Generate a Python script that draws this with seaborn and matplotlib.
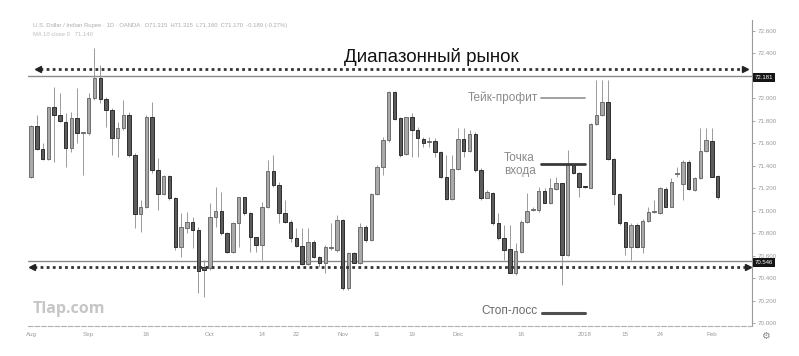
import numpy as np
import pandas as pd
import matplotlib
matplotlib.use("Agg")
import matplotlib.pyplot as plt
import seaborn as sns
from matplotlib.transforms import blended_transform_factory

# ---------------- data ----------------
opens = [71.297, 71.754, 71.547, 71.458, 71.921, 71.852, 71.793, 71.555, 71.823, 71.689,
         71.689, 72.001, 72.179, 71.992, 71.897, 71.645, 71.734, 71.852, 71.496, 70.971,
         71.030, 71.832, 71.363, 71.149, 71.309, 71.116, 70.674, 70.849, 70.903, 70.828,
         70.502, 70.487, 70.947, 71.000, 70.799, 70.635, 70.894, 71.119, 70.977, 70.763,
         70.695, 71.036, 71.354, 71.229, 70.983, 70.903, 70.754, 70.689, 70.526, 70.724,
         70.591, 70.532, 70.665, 70.650, 70.917, 70.309, 70.621, 70.537, 70.852, 70.739,
         71.149, 71.386, 71.630, 72.060, 71.823, 71.505, 71.832, 71.719, 71.639, 71.615,
         71.624, 71.526, 71.303, 71.101, 71.368, 71.636, 71.535, 71.683, 71.363, 71.116,
         71.161, 70.894, 70.760, 70.656, 70.442, 70.635, 70.903, 71.006, 71.006, 71.176,
         71.072, 71.190, 71.244, 70.606, 71.407, 71.339, 71.214, 71.205, 71.769, 71.852,
         71.965, 71.461, 71.149, 70.897, 70.674, 70.873, 70.674, 70.911, 70.989, 70.983,
         71.193, 71.036, 71.327, 71.238, 71.431, 71.184, 71.288, 71.532, 71.621, 71.312]
highs = [71.763, 71.852, 71.600, 71.927, 72.105, 72.045, 71.867, 71.882, 72.090, 71.704,
         72.045, 72.446, 72.297, 72.016, 71.912, 71.793, 71.986, 71.882, 71.511, 71.095,
         71.852, 71.971, 71.466, 71.318, 71.318, 71.125, 70.977, 70.992, 70.947, 70.858,
         70.561, 71.066, 71.214, 71.170, 70.813, 70.903, 71.125, 71.125, 70.992, 70.769,
         71.081, 71.452, 71.496, 71.259, 71.095, 70.917, 70.843, 70.843, 70.843, 70.739,
         70.597, 70.695, 70.888, 70.962, 70.923, 70.635, 70.635, 70.888, 70.873, 71.161,
         71.407, 71.653, 72.066, 72.066, 71.837, 71.837, 71.867, 71.748, 71.659, 71.659,
         71.645, 71.535, 71.496, 71.496, 71.734, 71.734, 71.719, 71.704, 71.377, 71.184,
         71.170, 70.977, 70.873, 70.873, 70.710, 70.917, 71.155, 71.036, 71.214, 71.199,
         71.288, 71.303, 71.250, 71.541, 71.416, 71.348, 71.220, 71.778, 72.164, 72.164,
         72.164, 71.466, 71.155, 70.903, 70.888, 70.888, 70.923, 71.036, 71.095, 71.214,
         71.214, 71.288, 71.392, 71.452, 71.452, 71.303, 71.734, 71.734, 71.734, 71.318]
lows = [71.288, 71.541, 71.452, 71.452, 71.437, 71.793, 71.392, 71.526, 71.600, 71.318,
        71.674, 71.986, 71.956, 71.748, 71.496, 71.481, 71.719, 71.481, 70.843, 70.813,
        71.021, 71.333, 71.006, 71.140, 71.095, 70.650, 70.591, 70.799, 70.665, 70.264,
        70.235, 70.472, 70.858, 70.784, 70.621, 70.627, 70.680, 70.962, 70.635, 70.635,
        70.561, 71.021, 71.214, 70.888, 70.888, 70.724, 70.680, 70.517, 70.517, 70.576,
        70.502, 70.442, 70.650, 70.635, 70.294, 70.294, 70.532, 70.526, 70.724, 70.733,
        71.140, 71.318, 71.615, 71.808, 71.481, 71.496, 71.481, 71.481, 71.570, 71.564,
        71.481, 71.288, 71.095, 71.095, 71.363, 71.481, 71.526, 71.348, 71.095, 71.110,
        70.873, 70.739, 70.561, 70.442, 70.428, 70.621, 70.888, 71.000, 70.992, 71.066,
        71.060, 71.184, 70.339, 70.597, 71.327, 71.119, 71.202, 71.199, 71.763, 71.843,
        71.452, 71.051, 70.873, 70.606, 70.561, 70.665, 70.621, 70.903, 70.983, 70.971,
        71.030, 71.030, 71.303, 71.095, 71.184, 71.179, 71.280, 71.526, 71.297, 71.101]
closes = [71.754, 71.547, 71.458, 71.921, 71.852, 71.799, 71.555, 71.823, 71.689, 71.695,
          72.001, 72.179, 71.992, 71.897, 71.645, 71.734, 71.852, 71.496, 70.971, 71.030,
          71.832, 71.363, 71.149, 71.309, 71.116, 70.674, 70.852, 70.903, 70.828, 70.466,
          70.472, 70.947, 71.000, 70.799, 70.635, 70.894, 71.119, 70.977, 70.763, 70.695,
          71.036, 71.354, 71.229, 70.983, 70.903, 70.754, 70.689, 70.526, 70.724, 70.591,
          70.532, 70.674, 70.671, 70.917, 70.309, 70.621, 70.537, 70.852, 70.739, 71.149,
          71.386, 71.630, 72.060, 71.814, 71.496, 71.832, 71.719, 71.645, 71.600, 71.621,
          71.526, 71.297, 71.101, 71.368, 71.636, 71.535, 71.683, 71.363, 71.116, 71.167,
          70.888, 70.754, 70.650, 70.448, 70.641, 70.903, 71.000, 71.009, 71.176, 71.072,
          71.199, 71.244, 70.606, 71.407, 71.333, 71.214, 71.208, 71.769, 71.852, 71.965,
          71.461, 71.149, 70.888, 70.674, 70.873, 70.674, 70.911, 70.986, 70.995, 71.199,
          71.036, 71.259, 71.333, 71.437, 71.190, 71.288, 71.532, 71.630, 71.303, 71.119]

x_tick_pos = [0, 10, 20, 31, 40, 46, 54, 60, 66, 74, 85, 96, 103, 109, 118]
x_tick_labels = ["Aug", "Sep", "16", "Oct", "14", "22", "Nov", "11", "19", "Dec",
                 "16", "2018", "15", "24", "Feb"]
y_ticks = [72.6, 72.4, 72.2, 72.0, 71.8, 71.6, 71.4, 71.2, 71.0, 70.8, 70.6, 70.4, 70.2, 70.0]
y_hidden = [72.2]   # tick label covered by the price box in the picture

range_top = 72.199
range_bottom = 70.552
take_profit = 72.003
entry_price = 71.416
stop_loss = 70.089
top_box_label = "72.181"
bottom_box_label = "70.546"

# ---------------- drawing ----------------
sns.set_style("white")
plt.rcParams['font.family'] = ['Liberation Sans', 'DejaVu Sans']

df = pd.DataFrame({"i": np.arange(len(opens)), "open": opens, "high": highs,
                   "low": lows, "close": closes})
df["up"] = df["close"] >= df["open"]
df["body_lo"] = df[["open", "close"]].min(axis=1)
df["body_hi"] = df[["open", "close"]].max(axis=1)

fig = plt.figure(figsize=(7.99, 3.56), dpi=100)
ax = fig.add_axes([28 / 799, 1 - 326 / 356, (752 - 28) / 799, (326 - 20) / 356])

ax.set_xlim(-0.52, 124.96)
ax.set_ylim(69.973, 72.698)

# wicks
ax.vlines(df["i"], df["low"], df["high"], color="#9a9a9a", lw=0.7, zorder=2)
# bodies
heights = np.maximum(df["body_hi"] - df["body_lo"], 0.008)
up = df[df["up"]]
dn = df[~df["up"]]
ax.bar(up["i"], heights[df["up"]], bottom=up["body_lo"], width=0.6,
       color="#a9a9a9", edgecolor="#6e6e6e", linewidth=0.7, zorder=3)
ax.bar(dn["i"], heights[~df["up"]], bottom=dn["body_lo"], width=0.6,
       color="#5c5c5c", edgecolor="#2e2e2e", linewidth=0.7, zorder=3)

# range lines
ax.axhline(range_top, color="#8a8a8a", lw=1.0, zorder=1)
ax.axhline(range_bottom, color="#8a8a8a", lw=1.0, zorder=1)

# dotted arrows
top_arrow_y = 72.262
bot_arrow_y = 70.499
ax.plot([1.6, 123.3], [top_arrow_y, top_arrow_y], linestyle=(0, (1.0, 1.2)),
        lw=2.0, color="#333333", zorder=4)
ax.plot([1.2], [top_arrow_y], marker="<", ms=4.5, color="#222222", zorder=5)
ax.plot([123.7], [top_arrow_y], marker=">", ms=4.5, color="#222222", zorder=5)
ax.plot([0.6, 123.9], [bot_arrow_y, bot_arrow_y], linestyle=(0, (1.0, 1.2)),
        lw=2.0, color="#333333", zorder=4)
ax.plot([0.2], [bot_arrow_y], marker="<", ms=4.5, color="#222222", zorder=5)
ax.plot([124.3], [bot_arrow_y], marker=">", ms=4.5, color="#222222", zorder=5)

# annotations
ax.text(69.4, 72.37, "Диапазонный рынок", fontsize=13.5, color="#111111",
        ha="center", va="center", zorder=6)
ax.text(87.9, take_profit, "Тейк-профит", fontsize=8.5, color="#8a8a8a",
        ha="right", va="center", zorder=6)
ax.plot([88.4, 96.0], [take_profit, take_profit], color="#999999", lw=1.3, zorder=6)
ax.text(82.0, 71.41, "Точка\nвхода", fontsize=8.5, color="#8a8a8a",
        ha="left", va="center", linespacing=1.15, zorder=6)
ax.plot([88.4, 96.0], [entry_price, entry_price], color="#3a3a3a", lw=2.0, zorder=6)
ax.text(87.7, 70.107, "Стоп-лосс", fontsize=8.5, color="#6a6a6a",
        ha="right", va="center", zorder=6)
ax.plot([88.6, 96.0], [stop_loss, stop_loss], color="#505050", lw=2.2, zorder=6)

ax.text(0.3, 70.125, "Tlap.com", fontsize=11.5, color="#c6c6c6",
        ha="left", va="center", fontweight="bold", family=["Open Sans", "DejaVu Sans"], zorder=6)

# axes styling
ax.yaxis.tick_right()
ax.set_yticks(y_ticks)
ax.set_yticklabels(["" if v in y_hidden else f"{v:.3f}" for v in y_ticks])
ax.set_xticks(x_tick_pos)
ax.set_xticklabels(x_tick_labels)
ax.tick_params(axis="y", labelsize=4.5, colors="#9a9a9a", length=2, width=0.6, pad=2)
ax.tick_params(axis="x", labelsize=4.5, colors="#9a9a9a", length=1.5, width=0.8, pad=3)
for s in ["top", "left"]:
    ax.spines[s].set_visible(False)
ax.spines["right"].set_color("#9a9a9a")
ax.spines["right"].set_linewidth(0.8)
ax.spines["bottom"].set_color("#b0b0b0")
ax.spines["bottom"].set_linewidth(0.8)
ax.spines["bottom"].set_linestyle((0, (4, 2)))

# price boxes on the right axis
tr = blended_transform_factory(ax.transAxes, ax.transData)
for val, lab in [(range_top, top_box_label), (range_bottom, bottom_box_label)]:
    ax.text(1.004, val - 0.012, lab, transform=tr, fontsize=4.3, color="white",
            ha="left", va="center", zorder=10, clip_on=False,
            bbox=dict(boxstyle="square,pad=0.35", fc="#151515", ec="none"))

# header
fig.text(33 / 799, 1 - 25 / 356,
         "U.S. Dollar / Indian Rupee · 1D · OANDA   O71.315  H71.315  L71.160  C71.170  -0.189 (-0.27%)",
         fontsize=4.2, color="#ababab", va="center")
fig.text(33 / 799, 1 - 35 / 356, "MA 10 close 0   71.140", fontsize=4.2,
         color="#bdbdbd", va="center")
fig.text(765 / 799, 1 - 336 / 356, "⚙", fontsize=7, color="#888888",
         ha="center", va="center", family=["DejaVu Sans"])

fig.savefig("out.png", dpi=100, facecolor="white")
